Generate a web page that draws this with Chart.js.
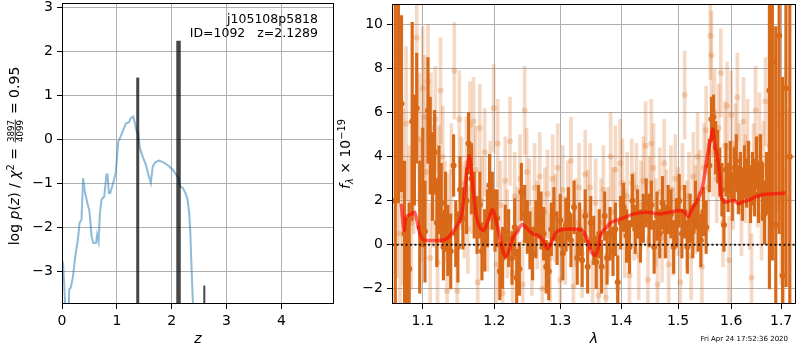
<!DOCTYPE html>
<html>
<head>
<meta charset="utf-8">
<script src="https://cdn.jsdelivr.net/npm/chart.js@4.4.0/dist/chart.umd.min.js"></script>
<style>
  html, body { margin: 0; padding: 0; background: #fff; }
  #wrap { position: relative; width: 800px; height: 350px; }
  #pzChart { position: absolute; left: 0; top: 0; }
  #specChart { position: absolute; left: 320px; top: 0; }
</style>
</head>
<body>
<div id="wrap">
  <canvas id="pzChart" width="340" height="350"></canvas>
  <canvas id="specChart" width="480" height="350"></canvas>
</div>
<script>
// ---------- p(z) panel ----------
const zGrid = [0.00, 0.018, 0.04, 0.08, 0.12, 0.13, 0.16, 0.20, 0.25, 0.29, 0.32, 0.355, 0.385, 0.415, 0.476, 0.50,
  0.54, 0.57, 0.62, 0.64, 0.667, 0.69, 0.72, 0.77, 0.81, 0.83, 0.855, 0.88, 0.934, 0.98, 1.026, 1.057, 1.118, 1.167,
  1.22, 1.258, 1.30, 1.33, 1.36, 1.39, 1.42, 1.48, 1.53, 1.575, 1.62, 1.655, 1.70, 1.77, 1.85, 1.94, 2.02, 2.08,
  2.125, 2.155, 2.205, 2.25, 2.29, 2.32, 2.34, 2.357, 2.38, 2.41];
const logPz = [-2.78, -2.80, -3.3, -4.4, -4.2, -3.42, -3.38, -3.12, -2.59, -2.28, -1.90, -1.83, -0.88, -1.18, -1.52, -1.63,
  -2.21, -2.36, -2.36, -2.17, -2.32, -1.71, -1.37, -1.30, -0.80, -0.80, -1.22, -1.22, -0.99, -0.76, -0.05, 0.03, 0.22, 0.37,
  0.39, 0.49, 0.52, 0.37, 0.18, 0.15, -0.20, -0.42, -0.58, -0.80, -0.99, -0.61, -0.52, -0.48, -0.52, -0.60, -0.69, -0.80,
  -0.88, -1.07, -1.11, -1.22, -1.37, -1.68, -2.13, -2.74, -3.5, -4.5];
const peakZ = [1.381, 2.125, 2.595];
const peakTop = [1.41, 2.25, -3.33];
const peakWidths = [3, 4.5, 2];
const zTicks = [0, 1, 2, 3, 4];
const pzTicks = [-3, -2, -1, 0, 1, 2, 3];
const fieldName = "j105108p5818";
const fitInfo = "ID=1092   z=2.1289";

// ---------- spectrum panel ----------
const darkWave = [1.064, 1.068, 1.072, 1.076, 1.079, 1.082, 1.086, 1.089, 1.092, 1.096, 1.100,
  1.103, 1.107, 1.110, 1.113, 1.116, 1.119, 1.122, 1.125, 1.128, 1.131, 1.134, 1.138,
  1.142, 1.145, 1.148, 1.151, 1.155, 1.160, 1.163, 1.167, 1.171, 1.175, 1.179, 1.182,
  1.186, 1.190, 1.193, 1.197, 1.201, 1.204, 1.208, 1.212, 1.216, 1.221, 1.226,
  1.230, 1.233, 1.237, 1.240, 1.245, 1.249, 1.253, 1.257, 1.262, 1.266, 1.270,
  1.274, 1.278, 1.282, 1.286, 1.290, 1.295, 1.300, 1.304, 1.309, 1.313,
  1.317, 1.322, 1.327, 1.331, 1.335, 1.340, 1.344, 1.349, 1.354, 1.358,
  1.363, 1.367, 1.372, 1.376, 1.381, 1.386, 1.390, 1.394, 1.399, 1.404,
  1.409, 1.414, 1.419, 1.424, 1.428, 1.433, 1.438, 1.443, 1.448, 1.452,
  1.457, 1.462, 1.467, 1.472, 1.477, 1.482, 1.487, 1.492, 1.497, 1.502,
  1.507, 1.512, 1.517, 1.522, 1.527, 1.532, 1.537, 1.542, 1.547, 1.552,
  1.558, 1.562, 1.566, 1.570, 1.574, 1.578, 1.582, 1.586, 1.590, 1.594,
  1.598, 1.602, 1.606, 1.610, 1.614, 1.618, 1.622, 1.626, 1.630, 1.634,
  1.638, 1.642, 1.646, 1.650, 1.654, 1.658, 1.662, 1.666, 1.670,
  1.676, 1.682, 1.689, 1.696, 1.703, 1.710, 1.718];
const darkFlux = [2.0, 8.9, 6.4, 0.5, -1.3, -1.1, 5.6, 4.3, 6.2, 0.8, 2.6,
  0.6, 6.1, 4.5, 3.1, 4.2, 1.0, 2.5, 1.9, -0.1, 1.5, 0.2, -0.3,
  3.6, 0.5, -0.1, 2.5, 1.2, 2.0, 4.6, 3.0, 1.8, 0.9, 1.8, -0.3,
  0.2, 1.2, 2.7, 2.0, 1.1, 1.2, -1.2, -0.6, 0.6, 0.3, -0.6,
  0.8, -1.5, -1.1, 2.4, 1.4, 0.8, 0.2, -0.4, 0.7, 1.5, 1.1,
  0.5, -1.0, -1.2, 0.7, 1.4, 0.3, 1.1, -0.4, 0.9, 1.4,
  0.2, 1.7, -0.6, 0.7, -0.7, 1.3, -1.0, 1.0, 0.2, -0.8,
  0.5, -1.0, 1.3, -0.6, 0.5, -0.3, 0.7, -1.7, 1.0, 1.7,
  0.4, -0.1, 2.0, 0.7, 1.4, 0.4, 1.2, 1.9, 1.1, 1.8,
  -0.1, 1.3, 0.5, 1.9, 0.6, 1.6, 1.4, -0.1, 1.0, 2.0,
  0.5, 1.5, -0.1, 1.2, 0.6, 1.8, 0.9, 0.2, 1.5, 0.8,
  3.6, 5.7, 5.8, 4.4, 4.0, 3.3, 2.5, 0.9, 3.4, 2.6,
  3.5, 2.2, 3.2, 3.8, 2.5, 3.0, 2.3, 3.3, 2.8, 3.5,
  2.2, 3.0, 2.6, 3.7, 2.3, 3.7, 2.4, 1.4, 2.8,
  7.0, 8.3, 0.9, 9.5, -1.4, 7.1, 4.0];
const darkErr = [9.0, 7.0, 4.0, 3.3, 2.5, 3.0, 4.5, 2.5, 2.5, 3.0, 2.7,
  2.3, 2.4, 2.2, 2.0, 1.9, 2.0, 2.0, 1.8, 1.5, 1.8, 1.6, 1.7,
  1.4, 1.5, 1.6, 1.5, 1.4, 1.5, 1.4, 1.6, 1.5, 1.3, 1.5, 1.3,
  1.4, 1.3, 1.4, 1.3, 1.4, 1.3, 1.3, 1.4, 1.2, 1.3, 1.2,
  1.3, 1.3, 1.2, 1.3, 1.3, 1.2, 1.3, 1.2, 1.3, 1.2, 1.3,
  1.2, 1.2, 1.3, 1.2, 1.2, 1.2, 1.2, 1.2, 1.2, 1.2,
  1.2, 1.2, 1.2, 1.2, 1.2, 1.2, 1.2, 1.2, 1.1, 1.2,
  1.1, 1.2, 1.1, 1.2, 1.2, 1.1, 1.2, 1.2, 1.2, 1.1,
  1.2, 1.2, 1.2, 1.1, 1.1, 1.2, 1.1, 1.1, 1.2, 1.1,
  1.2, 1.1, 1.1, 1.2, 1.2, 1.1, 1.1, 1.2, 1.1, 1.2,
  1.1, 1.2, 1.2, 1.1, 1.2, 1.1, 1.2, 1.2, 1.1, 1.2,
  1.2, 1.0, 1.0, 1.2, 1.2, 1.1, 1.2, 1.2, 1.2, 1.1,
  1.2, 1.1, 1.2, 1.2, 1.1, 1.2, 1.2, 1.2, 1.1, 1.2,
  1.2, 1.2, 1.3, 1.2, 1.3, 1.3, 1.3, 1.4, 1.4,
  9, 9, 9, 9, 9, 9, 9];

const lightWave = [1.066, 1.070, 1.074, 1.078, 1.082, 1.085, 1.088, 1.092, 1.095, 1.098, 1.100, 1.102, 1.105, 1.107,
  1.110, 1.111, 1.114, 1.117, 1.120, 1.122, 1.124, 1.127, 1.130, 1.133, 1.136, 1.139, 1.143, 1.147, 1.150, 1.153, 1.157,
  1.160, 1.162, 1.165, 1.168, 1.170, 1.173, 1.176, 1.179, 1.182, 1.186, 1.190, 1.194, 1.199, 1.203, 1.205, 1.209, 1.212,
  1.216, 1.219, 1.223, 1.227, 1.230, 1.234, 1.238, 1.242, 1.245, 1.248, 1.252, 1.256, 1.260, 1.264, 1.268, 1.272, 1.276,
  1.280, 1.284, 1.288, 1.292, 1.296, 1.300, 1.304, 1.308, 1.312, 1.317, 1.321, 1.325, 1.330, 1.335, 1.340, 1.344, 1.348,
  1.352, 1.357, 1.362, 1.366, 1.370, 1.374, 1.378, 1.382, 1.386, 1.390, 1.394, 1.398, 1.402, 1.406, 1.410, 1.414, 1.418,
  1.422, 1.426, 1.430, 1.434, 1.438, 1.442, 1.446, 1.449, 1.452, 1.456, 1.460, 1.463, 1.467, 1.471, 1.475, 1.479, 1.483,
  1.487, 1.491, 1.495, 1.500, 1.504, 1.508, 1.512, 1.516, 1.520, 1.524, 1.528, 1.532, 1.536, 1.540, 1.544, 1.548, 1.552,
  1.556, 1.560, 1.562, 1.565, 1.568, 1.572, 1.576, 1.580, 1.584, 1.588, 1.592, 1.596, 1.600, 1.604, 1.608, 1.612, 1.616,
  1.620, 1.624, 1.628, 1.632, 1.636, 1.640, 1.644, 1.648, 1.652, 1.656, 1.660, 1.664, 1.668, 1.672, 1.676, 1.680, 1.690,
  1.700, 1.705, 1.712];
const lightFlux = [3.5, 0.5, 2.2, 5.5, 1.0, 1.0, 3.5, 9.4, 4.8, 2.0, 7.1, 5.8, 3.3, 7.4,
  -0.6, 5.3, 2.4, 5.7, -0.8, 3.0, 7.0, 4.0, 1.5, -2.1, 1.0, 3.3, 7.9, -2.1, 5.7, 2.8, 1.5,
  3.7, 0.7, 5.4, 2.5, 5.6, 3.4, -1.7, 5.3, 2.0, 4.2, 0.8, 2.7, 6.2, -0.9, 4.6, 1.8, -2.2,
  2.9, 0.5, 4.7, -1.3, 2.2, 0.6, 3.0, -1.8, 6.1, 3.3, 1.9, -0.3, 2.6, 0.9, 3.1, -2.0, 1.5,
  2.3, -0.6, 3.0, 1.2, 3.5, -1.6, 2.5, 0.2, 1.8, 3.8, -1.9, 1.0, 2.6, -0.4, 3.2, 1.4, 2.6,
  -0.8, 1.9, -2.3, 1.0, 2.5, -2.4, 0.6, 4.0, 1.5, 3.4, -2.0, 3.7, 2.8, 0.5, 2.2, -1.4, 2.8,
  1.3, 2.6, -0.5, 1.8, 2.9, 4.5, -1.6, 2.0, 4.6, 3.5, 1.0, -1.8, 2.4, 0.3, 3.7, 1.4, -0.9,
  2.5, 0.6, 3.0, 1.5, -1.7, 2.6, 6.8, 0.9, 2.2, -0.5, 3.1, 1.6, 4.0, 2.3, -1.0, 3.5, 5.2,
  2.6, 9.5, 8.6, 4.2, 6.0, 3.0, 5.3, 7.8, 1.0, 4.5, 6.3, -0.7, 5.9, 2.7, 4.4, 6.7, 3.5,
  1.5, 5.6, 3.0, 4.6, 1.8, -1.5, 3.5, 6.1, 2.8, 4.9, 1.3, 3.6, 6.5, 2.0, 4.5, 3.0, 5.5,
  2.2, -0.5, 2.1];
const lightErr = [5.0, 4.0, 4.0, 3.5, 3.5, 3.0, 3.0, 3.0, 3.0, 2.8, 2.8, 2.8, 2.6, 2.6,
  2.5, 2.5, 2.5, 2.4, 2.4, 2.4, 2.4, 2.3, 2.3, 2.3, 2.2, 2.2, 2.2, 2.2, 2.2, 2.1, 2.1,
  2.1, 2.0, 2.0, 2.0, 2.0, 2.0, 2.0, 2.0, 2.0, 2.0, 2.0, 2.0, 2.0, 2.0, 2.0, 2.0, 2.0,
  2.0, 2.0, 2.0, 2.0, 2.0, 2.0, 2.0, 2.0, 2.0, 2.0, 2.0, 2.0, 2.0, 2.0, 2.0, 2.0, 2.0,
  2.0, 2.0, 2.0, 2.0, 2.0, 2.0, 2.0, 2.0, 2.0, 2.0, 2.0, 2.0, 2.0, 2.0, 2.0, 2.0, 2.0,
  2.0, 2.0, 2.0, 2.0, 2.0, 2.0, 2.0, 2.0, 2.0, 2.0, 2.0, 2.0, 2.0, 2.0, 2.0, 2.0, 2.0,
  2.0, 2.0, 2.0, 2.0, 2.0, 2.0, 2.0, 2.0, 2.0, 2.0, 2.0, 2.0, 2.0, 2.0, 2.0, 2.0, 2.0,
  2.0, 2.0, 2.0, 2.0, 2.0, 2.0, 2.0, 2.0, 2.0, 2.0, 2.0, 2.0, 2.0, 2.0, 2.0, 2.0, 2.0,
  2.0, 2.0, 2.0, 2.0, 2.0, 2.0, 2.0, 2.0, 2.0, 2.0, 2.0, 2.0, 2.0, 2.0, 2.0, 2.0, 2.0,
  2.0, 2.0, 2.0, 2.0, 2.0, 2.0, 2.0, 2.0, 2.0, 2.0, 2.0, 2.0, 2.0, 2.0, 2.5, 3.0, 4.0,
  4.0, 4.0, 4.0];

const modelWave = [1.0716, 1.0754, 1.078, 1.0852, 1.0894, 1.0963, 1.1006, 1.1096, 1.130, 1.137, 1.1457, 1.1525, 1.157,
  1.160, 1.1642, 1.168, 1.1735, 1.1788, 1.1849, 1.191, 1.1976, 1.207, 1.2117, 1.2166, 1.2216, 1.2279, 1.2347, 1.2412,
  1.257, 1.266, 1.2726, 1.2804, 1.2874, 1.2939, 1.3013, 1.3213, 1.3342, 1.3422, 1.3502, 1.3561, 1.361, 1.366, 1.3776,
  1.383, 1.3998, 1.4218, 1.4455, 1.468, 1.4926, 1.5075, 1.5137, 1.519, 1.524, 1.535, 1.545, 1.5537, 1.56, 1.5649,
  1.568, 1.5725, 1.5776, 1.5807, 1.588, 1.598, 1.607, 1.6135, 1.622, 1.632, 1.646, 1.6633, 1.6834, 1.7087];
const modelFlux = [1.86, 0.65, 1.25, 1.40, 1.47, 0.5, 0.23, 0.19, 0.23, 0.42, 0.8, 1.25, 2.31,
  3.21, 4.04, 3.0, 1.40, 0.8, 0.65, 1.10, 1.58, 0.5, -0.18, -0.56, -0.26, 0.34, 0.65, 0.92,
  0.5, 0.42, 0.19, -0.18, 0.19, 0.57, 0.68, 0.71, 0.65, 0.34, -0.33, -0.48, -0.18, 0.5, 0.87,
  1.02, 1.18, 1.40, 1.47, 1.40, 1.52, 1.55, 1.40, 1.28, 1.55, 2.0, 2.61, 3.96, 4.72, 5.25,
  4.57, 4.12, 3.21, 2.15, 1.93, 2.0, 2.0, 1.86, 1.95, 2.0, 2.15, 2.28, 2.31, 2.35];
const waveTicks = [1.1, 1.2, 1.3, 1.4, 1.5, 1.6, 1.7];
const fluxTicks = [-2, 0, 2, 4, 6, 8, 10];
const stampText = "Fri Apr 24 17:52:36 2020";

// ---------- shared look ----------
Chart.defaults.font.family = "'DejaVu Sans', sans-serif";
Chart.defaults.font.size = 14;
Chart.defaults.color = "#000";

const darkOrange = "rgb(215,105,25)";
const paleOrange = "rgba(215,105,25,0.25)";
const fontName = "'DejaVu Sans'";

function minus(v) { return String(v).replace("-", "\u2212"); }

function axisOpts(extra) {
  return Object.assign({
    border: { display: false },
    grid: { color: "#b0b0b0", lineWidth: 1, tickColor: "#000", tickLength: 5, drawTicks: true },
    ticks: { padding: 4, autoSkip: false, maxRotation: 0, color: "#000" }
  }, extra);
}

// black frame around the plot area, like matplotlib spines
const framePlugin = {
  id: "frame",
  afterDraw(chart) {
    const { ctx, chartArea: a } = chart;
    ctx.save();
    ctx.strokeStyle = "#000";
    ctx.lineWidth = 1;
    ctx.strokeRect(a.left + 0.5, a.top + 0.5, a.right - a.left - 1, a.bottom - a.top - 1);
    ctx.restore();
  }
};

// rotated label made of pieces (sub/superscripts, a fraction)
function drawRotatedLabel(ctx, x, yCenter, parts, size) {
  ctx.save();
  ctx.translate(x, yCenter);
  ctx.rotate(-Math.PI / 2);
  ctx.fillStyle = "#000";
  ctx.textBaseline = "alphabetic";
  const fontOf = p => (p.italic ? "italic " : "") + (size * (p.scale || 1)) + "px " + fontName;
  const widths = parts.map(p => {
    if (p.frac) {
      ctx.font = fontOf({ scale: 0.62 });
      return Math.max(ctx.measureText(p.frac[0]).width, ctx.measureText(p.frac[1]).width) + 3;
    }
    ctx.font = fontOf(p);
    return ctx.measureText(p.t).width;
  });
  let cx = -widths.reduce((s, w) => s + w, 0) / 2;
  parts.forEach((p, i) => {
    const w = widths[i];
    if (p.frac) {
      const fs = size * 0.62;
      const barY = -size * 0.27;
      ctx.font = fontOf({ scale: 0.62 });
      ctx.textAlign = "center";
      ctx.fillText(p.frac[0], cx + w / 2, barY - 1.5);
      ctx.fillText(p.frac[1], cx + w / 2, barY + 1.5 + fs * 0.73);
      ctx.fillRect(cx + 1, barY - 0.4, w - 2, 0.8);
    } else {
      ctx.font = fontOf(p);
      ctx.textAlign = "left";
      ctx.fillText(p.t, cx, p.dy || 0);
    }
    cx += w;
  });
  ctx.restore();
}

const pzTextPlugin = {
  id: "pzText",
  afterDraw(chart) {
    const ctx = chart.ctx;
    ctx.save();
    ctx.fillStyle = "#000";
    ctx.font = "12.5px " + fontName;
    ctx.textAlign = "right";
    ctx.textBaseline = "middle";
    ctx.fillText(fieldName, 318, 20);
    ctx.fillText(fitInfo, 318, 34);
    ctx.restore();
    drawRotatedLabel(ctx, 19, 156, [
      { t: "log " }, { t: "p", italic: true }, { t: "(" }, { t: "z", italic: true }, { t: ")" },
      { t: " / " }, { t: "\u03c7", italic: true }, { t: "2", scale: 0.7, dy: -5.5 },
      { t: " = " }, { frac: ["3897", "4099"] }, { t: " = 0.95" }
    ], 14);
  }
};

const specTextPlugin = {
  id: "specText",
  afterDraw(chart) {
    const ctx = chart.ctx;
    drawRotatedLabel(ctx, 30, 154, [
      { t: "f", italic: true }, { t: "\u03bb", italic: true, scale: 0.7, dy: 2.5 },
      { t: " \u00d7 10" }, { t: "\u221219", scale: 0.7, dy: -5.5 }
    ], 14);
    ctx.save();
    ctx.fillStyle = "#000";
    ctx.font = "7px " + fontName;
    ctx.textAlign = "right";
    ctx.textBaseline = "middle";
    ctx.fillText(stampText, 468, 339);
    ctx.restore();
  }
};

// ---------- left chart ----------
const peakSets = peakZ.map((z, i) => ({
  type: "line",
  data: [{ x: z, y: -4 }, { x: z, y: peakTop[i] }],
  borderColor: "rgba(0,0,0,0.72)",
  borderWidth: peakWidths[i],
  borderCapStyle: "butt",
  pointRadius: 0,
  showLine: true,
  clip: 0
}));

new Chart(document.getElementById("pzChart"), {
  type: "scatter",
  data: {
    datasets: [
      ...peakSets,
      {
        type: "line",
        data: zGrid.map((z, i) => ({ x: z, y: logPz[i] })),
        borderColor: "rgba(31,119,180,0.5)",
        borderWidth: 2,
        pointRadius: 0,
        tension: 0,
        showLine: true,
        clip: 0
      }
    ]
  },
  options: {
    responsive: false,
    animation: false,
    layout: { padding: { left: 0, top: 3, right: 6, bottom: 0 } },
    plugins: { legend: { display: false }, tooltip: { enabled: false } },
    scales: {
      x: axisOpts({
        type: "linear", min: 0, max: 4.96,
        afterBuildTicks: s => { s.ticks = zTicks.map(v => ({ value: v })); },
        afterFit: s => { s.height = 46; s.paddingLeft = 0; s.paddingRight = 0; },
        title: { display: true, text: "z", font: { style: "italic", size: 14 }, padding: { top: 0, bottom: 2 } }
      }),
      y: axisOpts({
        type: "linear", min: -3.75, max: 3.11,
        afterBuildTicks: s => { s.ticks = pzTicks.map(v => ({ value: v })); },
        afterFit: s => { s.width = 62; s.paddingTop = 0; s.paddingBottom = 0; },
        ticks: { padding: 4, autoSkip: false, color: "#000", callback: v => minus(v) }
      })
    }
  },
  plugins: [framePlugin, pzTextPlugin]
});

// ---------- right chart ----------
function errorBars(wave, flux, err) {
  return wave.map((w, i) => ({ x: w, y: [flux[i] - err[i], flux[i] + err[i]] }));
}

new Chart(document.getElementById("specChart"), {
  type: "scatter",
  data: {
    datasets: [
      {
        type: "line",
        data: modelWave.map((w, i) => ({ x: w, y: modelFlux[i] })),
        borderColor: "rgba(255,0,0,0.6)",
        borderWidth: 3.5,
        pointRadius: 0,
        tension: 0.3,
        showLine: true,
        clip: 0
      },
      {
        type: "line",
        data: [{ x: 1.0597, y: 0 }, { x: 1.731, y: 0 }],
        borderColor: "rgba(0,0,0,0.85)",
        borderWidth: 2,
        borderDash: [2, 2.5],
        pointRadius: 0,
        showLine: true,
        clip: 0
      },
      {
        type: "scatter",
        data: darkWave.map((w, i) => ({ x: w, y: darkFlux[i] })),
        backgroundColor: darkOrange,
        borderWidth: 0,
        pointRadius: 3,
        clip: 0
      },
      {
        type: "bar",
        data: errorBars(darkWave, darkFlux, darkErr),
        backgroundColor: darkOrange,
        barThickness: 2.5,
        grouped: false,
        borderWidth: 0,
        clip: 0
      },
      {
        type: "scatter",
        data: lightWave.map((w, i) => ({ x: w, y: lightFlux[i] })),
        backgroundColor: paleOrange,
        borderWidth: 0,
        pointRadius: 3,
        clip: 0
      },
      {
        type: "bar",
        data: errorBars(lightWave, lightFlux, lightErr),
        backgroundColor: paleOrange,
        barThickness: 3,
        grouped: false,
        borderWidth: 0,
        clip: 0
      }
    ]
  },
  options: {
    responsive: false,
    animation: false,
    layout: { padding: { left: 0, top: 3, right: 0, bottom: 0 } },
    plugins: { legend: { display: false }, tooltip: { enabled: false } },
    scales: {
      x: axisOpts({
        type: "logarithmic", min: 1.0597, max: 1.731, offset: false, z: 1,
        grid: { color: "#b0b0b0", lineWidth: 1, tickColor: "#000", tickLength: 5, drawTicks: true, offset: false },
        afterBuildTicks: s => { s.ticks = waveTicks.map(v => ({ value: v })); },
        afterFit: s => { s.height = 46; s.paddingLeft = 0; s.paddingRight = 0; },
        ticks: { padding: 4, autoSkip: false, maxRotation: 0, color: "#000", callback: v => Number(v).toFixed(1) },
        title: { display: true, text: "\u03bb", font: { style: "italic", size: 14 }, padding: { top: 0, bottom: 2 } }
      }),
      y: axisOpts({
        type: "linear", min: -2.69, max: 10.93, z: 1,
        afterBuildTicks: s => { s.ticks = fluxTicks.map(v => ({ value: v })); },
        afterFit: s => { s.width = 72; s.paddingTop = 0; s.paddingBottom = 0; },
        ticks: { padding: 4, autoSkip: false, color: "#000", callback: v => minus(v) }
      })
    }
  },
  plugins: [framePlugin, specTextPlugin]
});
</script>
</body>
</html>
